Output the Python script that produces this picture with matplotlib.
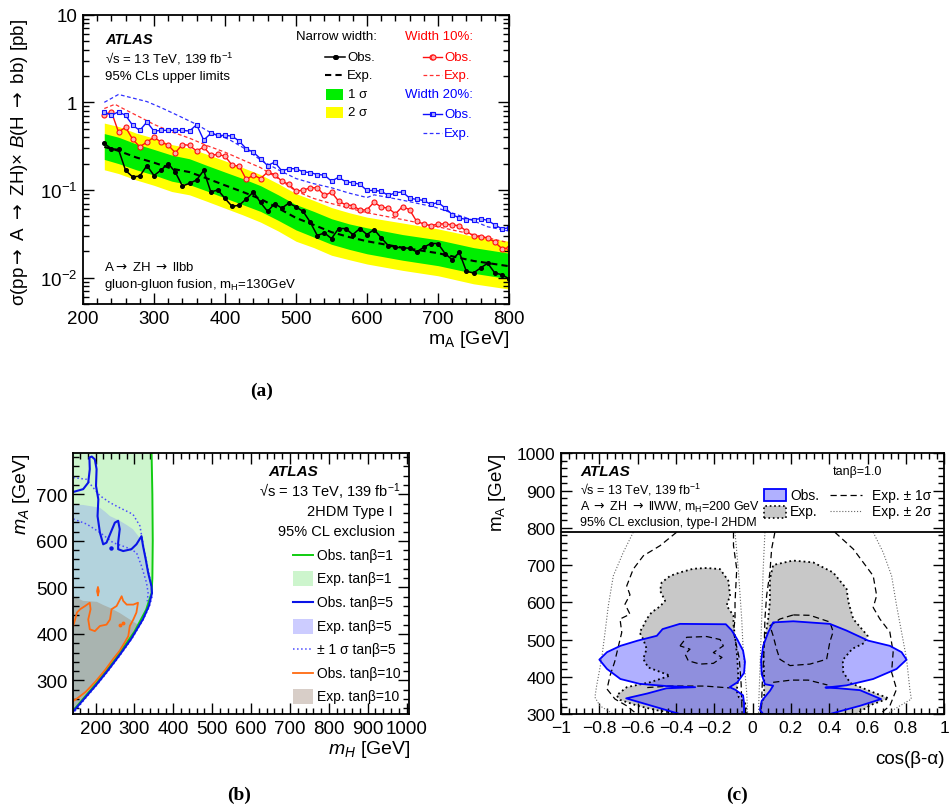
import numpy as np
import matplotlib
matplotlib.use("Agg")
import matplotlib.pyplot as plt
from matplotlib.ticker import MultipleLocator, FixedLocator, FixedFormatter, FuncFormatter, LogLocator, NullFormatter
from matplotlib.patches import Rectangle
from matplotlib.lines import Line2D

plt.rcParams['font.family'] = ['Liberation Sans', 'DejaVu Sans']
plt.rcParams['mathtext.fontset'] = 'custom'
plt.rcParams['mathtext.rm'] = 'Liberation Sans'
plt.rcParams['mathtext.it'] = 'Liberation Sans:italic'
plt.rcParams['mathtext.bf'] = 'Liberation Sans:bold'
plt.rcParams['mathtext.sf'] = 'DejaVu Sans'

ARR = '$\\mathsf{\\rightarrow}$'

# ---------------- panel (a) data ----------------
mass_a = list(range(230, 810, 10))
obs_narrow = [0.34, 0.295, 0.29, 0.167, 0.141, 0.144, 0.19, 0.146, 0.169, 0.2,
              0.16, 0.111, 0.119, 0.13, 0.167, 0.095, 0.1, 0.08, 0.065, 0.067,
              0.079, 0.095, 0.072, 0.057, 0.07, 0.062, 0.071, 0.064, 0.057, 0.043,
              0.0302, 0.0324, 0.0279, 0.0363, 0.0363, 0.031, 0.0363, 0.031, 0.0354, 0.0284,
              0.0232, 0.0222, 0.0219, 0.0216, 0.0197, 0.0222, 0.0245, 0.0245, 0.0188, 0.016,
              0.0194, 0.0118, 0.0113, 0.0129, 0.0146, 0.0113, 0.0108, 0.0097]
obs_w10 = [0.71, 0.78, 0.458, 0.52, 0.378, 0.311, 0.352, 0.40, 0.352, 0.325,
           0.266, 0.33, 0.323, 0.278, 0.309, 0.25, 0.254, 0.243, 0.192, 0.187,
           0.132, 0.148, 0.135, 0.16, 0.15, 0.126, 0.116, 0.097, 0.0995, 0.106,
           0.106, 0.0865, 0.0945, 0.0745, 0.0677, 0.0665, 0.0588, 0.0595, 0.0726, 0.0638,
           0.062, 0.0534, 0.0647, 0.0595, 0.0437, 0.041, 0.039, 0.041, 0.041, 0.040,
           0.039, 0.034, 0.0297, 0.029, 0.0283, 0.0255, 0.0214, 0.0218]
obs_w20 = [0.78, 0.71, 0.78, 0.71, 0.546, 0.479, 0.596, 0.47, 0.479, 0.479,
           0.479, 0.479, 0.47, 0.556, 0.371, 0.442, 0.42, 0.42, 0.412, 0.361,
           0.295, 0.27, 0.227, 0.19, 0.208, 0.165, 0.175, 0.175, 0.161, 0.158,
           0.150, 0.148, 0.126, 0.140, 0.124, 0.121, 0.116, 0.0987, 0.0987, 0.097,
           0.0865, 0.093, 0.095, 0.0807, 0.078, 0.076, 0.0683, 0.072, 0.0625, 0.0524,
           0.048, 0.046, 0.046, 0.047, 0.045, 0.040, 0.036, 0.037]

band_mass = [230, 250, 275, 300, 325, 350, 375, 400, 425, 450, 475, 500, 525, 550, 575, 600, 650, 700, 750, 800]
exp_narrow = [0.31, 0.28, 0.235, 0.205, 0.175, 0.16, 0.135, 0.113, 0.095, 0.079,
              0.062, 0.048, 0.040, 0.033, 0.029, 0.026, 0.022, 0.019, 0.0155, 0.0135]
exp_up2 = [0.58, 0.53, 0.445, 0.39, 0.33, 0.30, 0.255, 0.215, 0.18, 0.15,
           0.118, 0.091, 0.076, 0.063, 0.055, 0.049, 0.042, 0.036, 0.0295, 0.026]
exp_up1 = [0.44, 0.40, 0.335, 0.29, 0.25, 0.227, 0.19, 0.16, 0.135, 0.112,
           0.088, 0.068, 0.057, 0.047, 0.041, 0.037, 0.031, 0.027, 0.022, 0.019]
exp_dn1 = [0.223, 0.20, 0.17, 0.148, 0.126, 0.115, 0.097, 0.081, 0.068, 0.057,
           0.045, 0.035, 0.029, 0.024, 0.021, 0.0187, 0.0158, 0.0137, 0.0112, 0.0097]
exp_dn2 = [0.17, 0.154, 0.13, 0.113, 0.096, 0.088, 0.074, 0.062, 0.052, 0.043,
           0.034, 0.026, 0.022, 0.018, 0.016, 0.0143, 0.0121, 0.0105, 0.0085, 0.0074]

exp_w10_mass = [230, 245, 260, 280, 300, 325, 350, 375, 400, 425, 450, 475, 500, 525, 550, 575, 600, 650, 700, 750, 800]
exp_w10 = [0.85, 0.95, 0.82, 0.68, 0.56, 0.46, 0.39, 0.32, 0.27, 0.22, 0.18, 0.135, 0.097,
           0.08, 0.07, 0.062, 0.055, 0.046, 0.038, 0.031, 0.025]
exp_w20_mass = [230, 250, 270, 290, 310, 335, 360, 380, 405, 430, 450, 475, 500, 525, 550, 575, 600, 610, 645, 695, 740, 770, 800]
exp_w20 = [1.0, 1.23, 1.12, 1.02, 0.87, 0.70, 0.56, 0.45, 0.38, 0.29, 0.22, 0.17, 0.135,
           0.118, 0.106, 0.092, 0.082, 0.088, 0.078, 0.064, 0.048, 0.038, 0.034]

# ---------------- panel (b) data (mH, mA) ----------------
exp1_mH = [142, 344, 346, 347, 346, 344, 330, 300, 250, 200, 142]
exp1_mA = [788, 788, 700, 600, 520, 488, 452, 405, 345, 292, 235]
exp5_mH = [142, 168, 190, 211, 225, 237, 250, 262, 280, 296, 310, 322, 331, 339, 342, 335, 300, 250, 200, 142]
exp5_mA = [678, 677, 674, 671, 662, 653, 648, 643, 634, 625, 610, 596, 560, 524, 490, 460, 405, 345, 292, 235]
exp10_mH = [142, 168, 203, 220, 237, 262, 288, 309, 300, 250, 200, 142]
exp10_mA = [481, 471, 469, 462, 456, 445, 431, 420, 405, 345, 292, 235]
obs1_mH = [344, 346, 347, 346, 344, 330, 300, 250, 200, 142]
obs1_mA = [788, 700, 600, 520, 488, 452, 405, 345, 292, 235]
obs5_mH = [142.6, 168, 181, 185, 184, 190, 198, 202.5, 201, 207, 205, 211, 219.5, 228, 237, 249.5,
           258, 262, 258, 258, 271, 292, 305, 318, 322, 329, 335, 343.6, 345, 337, 322, 292, 262,
           232, 202, 172, 142]
obs5_mA = [705, 711, 725, 754, 779, 781, 775, 754, 718, 689, 653, 618, 592.5, 596, 614, 639,
           643, 625, 596, 582, 578, 582, 592.5, 610, 589, 560, 532, 503, 488, 460, 432, 390, 355,
           322, 291, 262, 233]
sig5_up_mH = [142.6, 177, 190, 211, 237, 262, 296, 314, 326, 335, 343, 346, 338, 322, 292, 262, 232, 202, 172, 145]
sig5_up_mA = [736, 732, 718, 697, 682, 671, 657, 632, 575, 539, 503, 482, 458, 430, 388, 353, 320, 289, 260, 232]
sig5_dn_mH = [142.6, 177, 211, 245, 279, 305, 318, 331, 335, 333]
sig5_dn_mA = [647, 636, 618, 596, 586, 575, 546, 510, 488, 470]
obs10_mH = [142.6, 147, 152, 160, 173, 185, 187, 181, 185, 198, 211, 228, 237, 241, 254, 267, 271,
            280, 297, 309, 305, 297, 288, 284, 275, 262, 245, 225, 200, 175, 155, 142.6]
obs10_mA = [418, 430, 446, 453, 460, 467, 453, 431, 410, 406, 417, 420, 431, 453, 460, 481, 471,
            463, 463, 467, 446, 431, 417, 395, 382, 364, 346, 323, 298, 276, 263, 256]
isl10_mH = [206, 208.5, 206, 203.5, 206]
isl10_mA = [483, 492, 501, 492, 483]

# ---------------- panel (c) data (cos(beta-alpha), mA) ----------------
obsL_c = [-0.045, -0.045, -0.05, -0.09, -0.12, -0.08, -0.045, -0.04, -0.05, -0.08, -0.11, -0.14,
          -0.38, -0.47, -0.50, -0.60, -0.69, -0.76, -0.80, -0.76, -0.69, -0.59, -0.45, -0.30,
          -0.45, -0.55, -0.66, -0.60, -0.52, -0.38]
obsL_m = [300, 330, 350, 365, 372, 385, 410, 440, 470, 500, 525, 541,
          542, 528, 510, 497, 483, 466, 446, 421, 394, 381, 375, 372,
          369, 355, 342, 333, 321, 300]
obsR_c = [0.055, 0.038, 0.047, 0.09, 0.107, 0.064, 0.047, 0.044, 0.055, 0.081, 0.107, 0.212,
          0.403, 0.49, 0.603, 0.716, 0.777, 0.803, 0.751, 0.629, 0.49, 0.42, 0.38, 0.45,
          0.56, 0.67, 0.56, 0.403]
obsR_m = [300, 311, 335, 362, 376, 380, 407, 443, 483, 519, 546, 549,
          542, 524, 497, 483, 466, 446, 421, 394, 377, 373, 371, 369,
          364, 340, 322, 300]
expL_c = [-0.03, -0.04, -0.072, -0.083, -0.075, -0.08, -0.09, -0.10, -0.10, -0.136, -0.118, -0.127,
          -0.17, -0.24, -0.31, -0.38, -0.43, -0.475, -0.483, -0.457, -0.483, -0.527, -0.553,
          -0.57, -0.59, -0.571, -0.553, -0.571, -0.545, -0.431, -0.536, -0.657, -0.71, -0.692,
          -0.60, -0.50, -0.38]
expL_m = [300, 330, 345, 362, 400, 450, 500, 540, 564, 591, 618, 658,
          689, 692, 690, 680, 671, 653, 631, 604, 589, 573, 555,
          537, 519, 501, 475, 448, 425, 403, 385, 372, 350, 338,
          322, 310, 300]
expR_c = [0.05, 0.04, 0.06, 0.06, 0.055, 0.07, 0.081, 0.09, 0.09, 0.107, 0.21, 0.316, 0.42,
          0.49, 0.50, 0.525, 0.60, 0.58, 0.52, 0.47, 0.473, 0.51, 0.62, 0.71, 0.62, 0.54]
expR_m = [300, 320, 345, 400, 480, 520, 555, 600, 662, 700, 712, 707, 680,
          636, 600, 555, 510, 490, 475, 445, 412, 383, 360, 342, 325, 300]

sig1_lines = [
    ([-0.397, -0.483, -0.57, -0.623, -0.657, -0.64, -0.666, -0.64, -0.692, -0.683, -0.70, -0.72,
      -0.744, -0.76, -0.718, -0.657, -0.605],
     [788, 752, 725, 689, 644, 620, 595, 568, 555, 519, 483, 440, 403, 367, 340, 322, 300]),
    ([-0.10, -0.10, -0.083, -0.092, -0.092, -0.10, -0.07, -0.06, -0.055],
     [788, 752, 689, 600, 555, 520, 450, 380, 300]),
    ([-0.379, -0.344, -0.24, -0.17, -0.153, -0.205, -0.16, -0.205, -0.275, -0.336, -0.353, -0.327, -0.379],
     [483, 506, 508, 500, 483, 465, 452, 436, 434, 443, 461, 474, 483]),
    ([-0.55, -0.43, -0.25, -0.12], [371, 375, 375, 370]),
    ([0.429, 0.525, 0.629, 0.647, 0.629, 0.664, 0.716, 0.733, 0.725, 0.751, 0.716, 0.664],
     [788, 743, 671, 618, 586, 555, 520, 466, 412, 367, 322, 300]),
    ([0.116, 0.099, 0.09, 0.073, 0.064, 0.06, 0.05, 0.045],
     [788, 743, 680, 618, 555, 480, 380, 300]),
    ([0.212, 0.299, 0.403, 0.42, 0.403, 0.386, 0.299, 0.195, 0.142, 0.125, 0.107, 0.09, 0.142, 0.212],
     [566, 565, 547, 521, 494, 447, 434, 430, 447, 474, 510, 537, 555, 566]),
    ([0.107, 0.20, 0.29, 0.39], [385, 391, 391, 378]),
]
sig2_lines = [
    ([-0.623, -0.675, -0.727, -0.753, -0.77, -0.788, -0.814, -0.823, -0.797, -0.727],
     [788, 734, 671, 591, 520, 448, 376, 345, 322, 300]),
    ([-0.092, -0.075, -0.057, -0.049, -0.031, -0.026], [788, 689, 555, 465, 357, 300]),
    ([0.064, 0.055, 0.047, 0.038, 0.03], [788, 689, 555, 420, 300]),
    ([0.629, 0.681, 0.725, 0.751, 0.777, 0.803, 0.82, 0.828, 0.768, 0.70],
     [788, 734, 671, 591, 520, 448, 367, 340, 322, 300]),
]

# ---------------- figure ----------------
W, H = 952, 812
fig = plt.figure(figsize=(W / 100, H / 100), dpi=100)


def box(l, t, r, b):
    return [l / W, 1 - b / H, (r - l) / W, (b - t) / H]


def ftext(px, py, s, **kw):
    kw.setdefault('va', 'center')
    fig.text(px / W, 1 - py / H, s, **kw)


def fline(x1, x2, py, **kw):
    fig.add_artist(Line2D([x1 / W, x2 / W], [1 - py / H, 1 - py / H], transform=fig.transFigure, **kw))


def frect(l, t, r, b, **kw):
    fig.add_artist(Rectangle((l / W, 1 - b / H), (r - l) / W, (b - t) / H, transform=fig.transFigure, **kw))


def style(ax, size):
    ax.tick_params(which='both', direction='in', top=True, right=True, labelsize=size, width=1)
    ax.tick_params(which='major', length=8, pad=4)
    ax.tick_params(which='minor', length=4)
    for s in ax.spines.values():
        s.set_linewidth(1.3)


# ----- (a) -----
axa = fig.add_axes(box(83, 15.7, 509, 305))
axa.set_yscale('log')
axa.fill_between(band_mass, exp_dn2, exp_up2, color='#ffff00', lw=0)
axa.fill_between(band_mass, exp_dn1, exp_up1, color='#00ee00', lw=0)
axa.plot(band_mass, exp_narrow, color='black', ls='--', lw=1.5, dashes=(3, 2))
axa.plot(exp_w10_mass, exp_w10, color='#ff3030', ls='--', lw=0.9, dashes=(3, 2))
axa.plot(exp_w20_mass, exp_w20, color='#3030ff', ls='--', lw=0.9, dashes=(3, 2))
axa.plot(mass_a, obs_narrow, color='black', lw=1.1, marker='o', ms=2.6)
axa.plot(mass_a, obs_w10, color='#ff1010', lw=1.0, marker='o', ms=3.6, mfc='#ffb0b0', mew=0.8)
axa.plot(mass_a, obs_w20, color='#1010ff', lw=1.0, marker='s', ms=3.4, mfc='#b0b0ff', mew=0.8)
axa.set_xlim(200, 800)
axa.set_ylim(0.005, 10)
axa.xaxis.set_major_locator(MultipleLocator(100))
axa.xaxis.set_minor_locator(MultipleLocator(20))
axa.yaxis.set_major_locator(FixedLocator([0.01, 0.1, 1, 10]))
axa.yaxis.set_major_formatter(FixedFormatter(['$10^{-2}$', '$10^{-1}$', '1', '10']))
axa.yaxis.set_minor_locator(LogLocator(subs=range(2, 10)))
axa.yaxis.set_minor_formatter(NullFormatter())
style(axa, 13.5)

ftext(20, 162, 'σ(pp' + ARR + ' A ' + ARR + ' ZH)× $\\mathit{B}$(H ' + ARR + ' bb) [pb]',
      rotation=90, ha='center', fontsize=13.5)
ftext(510, 340, 'm$_\\mathrm{A}$ [GeV]', ha='right', fontsize=14)
ftext(105, 40, 'ATLAS', fontsize=10.5, fontweight='bold', fontstyle='italic')
ftext(105, 58.7, '√s = 13 TeV, 139 fb$^{-1}$', fontsize=9.5)
ftext(105, 76.7, '95% CLs upper limits', fontsize=9.5)
ftext(104, 268, 'A' + ARR + ' ZH ' + ARR + ' llbb', fontsize=9.5)
ftext(104, 285, 'gluon-gluon fusion, m$_\\mathrm{H}$=130GeV', fontsize=9.5)

ftext(377, 36.7, 'Narrow width:', ha='right', fontsize=9.5)
fline(325, 345, 57.7, color='black', lw=1.1)
fline(334.5, 335.5, 57.7, color='black', marker='o', ms=2.6)
ftext(347, 57.7, 'Obs.', fontsize=9.5)
fline(325, 345, 76, color='black', lw=1.5, ls='--', dashes=(3, 2))
ftext(347, 76, 'Exp.', fontsize=9.5)
frect(326, 90, 343, 100.5, color='#00ee00', lw=0)
ftext(348, 95, '1 σ', fontsize=9.5)
frect(326, 107.5, 343, 118.5, color='#ffff00', lw=0)
ftext(348, 113, '2 σ', fontsize=9.5)
ftext(473, 36.7, 'Width 10%:', ha='right', fontsize=9.5, color='#ff0000')
fline(423, 442, 57.7, color='#ff1010', lw=1.0)
fline(432, 433, 57.7, color='#ff1010', marker='o', ms=3.6, mfc='#ffb0b0', mew=0.8)
ftext(444, 57.7, 'Obs.', fontsize=9.5, color='#ff0000')
fline(423, 442, 76, color='#ff3030', lw=0.9, ls='--', dashes=(3, 2))
ftext(444, 76, 'Exp.', fontsize=9.5, color='#ff0000')
ftext(473, 95, 'Width 20%:', ha='right', fontsize=9.5, color='#0000ff')
fline(423, 442, 115, color='#1010ff', lw=1.0)
fline(432, 433, 115, color='#1010ff', marker='s', ms=3.4, mfc='#b0b0ff', mew=0.8)
ftext(444, 115, 'Obs.', fontsize=9.5, color='#0000ff')
fline(423, 442, 134, color='#3030ff', lw=0.9, ls='--', dashes=(3, 2))
ftext(444, 134, 'Exp.', fontsize=9.5, color='#0000ff')

# ----- (b) -----
axb = fig.add_axes(box(73.3, 454.3, 409.3, 715))
axb.fill(exp1_mH, exp1_mA, color='#cdf5cd', lw=0)
axb.fill(exp5_mH, exp5_mA, color='#b3d3dd', lw=0)
axb.fill(exp10_mH, exp10_mA, color='#a9b4b0', lw=0)
axb.plot(sig5_up_mH, sig5_up_mA, color='#4a4aff', ls=':', lw=1.1)
axb.plot(sig5_dn_mH, sig5_dn_mA, color='#4a4aff', ls=':', lw=1.1)
axb.plot(obs1_mH, obs1_mA, color='#11cc11', lw=1.4)
axb.plot(obs10_mH, obs10_mA, color='#ff6a10', lw=1.3)
axb.plot(isl10_mH, isl10_mA, color='#ff6a10', lw=1.2)
axb.plot([271, 262], [424, 419], ls='none', marker='o', ms=1.8, color='#ff6a10')
axb.plot(obs5_mH, obs5_mA, color='#0a14e6', lw=1.5)
axb.plot([240], [585], ls='none', marker='o', ms=2.2, color='#0a14e6')
axb.set_xlim(142.6, 1007)
axb.set_ylim(228, 788)
axb.xaxis.set_major_locator(MultipleLocator(100))
axb.xaxis.set_minor_locator(MultipleLocator(20))
axb.yaxis.set_major_locator(MultipleLocator(100))
axb.yaxis.set_minor_locator(MultipleLocator(20))
style(axb, 13.5)

ftext(22, 453, '$m_A$ [GeV]', rotation=90, ha='center', va='top', fontsize=14)
ftext(410, 750, '$m_H$ [GeV]', ha='right', fontsize=14)
ftext(268, 472, 'ATLAS', fontsize=11, fontweight='bold', fontstyle='italic')
ftext(400, 492, '√s = 13 TeV, 139 fb$^{-1}$', ha='right', fontsize=10.5)
ftext(393, 512, '2HDM Type I', ha='right', fontsize=10.5)
ftext(395, 532, '95% CL exclusion', ha='right', fontsize=10.5)
leg_b = [(556, 'line', dict(color='#11cc11', lw=1.4), 'Obs. tanβ=1'),
         (579.5, 'rect', '#cdf5cd', 'Exp. tanβ=1'),
         (603, 'line', dict(color='#0a14e6', lw=1.5), 'Obs. tanβ=5'),
         (627, 'rect', '#ccccff', 'Exp. tanβ=5'),
         (650, 'line', dict(color='#4a4aff', lw=1.1, ls=':'), '± 1 σ tanβ=5'),
         (674, 'line', dict(color='#ff6a10', lw=1.3), 'Obs. tanβ=10'),
         (697.5, 'rect', '#d8cec8', 'Exp. tanβ=10')]
for py, kind, st, lab in leg_b:
    if kind == 'line':
        fline(293, 313, py, **st)
    else:
        frect(293, py - 7.5, 313, py + 7.5, color=st, lw=0)
    ftext(317, py, lab, fontsize=10)

# ----- (c) -----
axc = fig.add_axes(box(561, 454.3, 944.3, 715))
axc.fill(expL_c, expL_m, facecolor='#c8c8c8', edgecolor='none')
axc.fill(expR_c, expR_m, facecolor='#c8c8c8', edgecolor='none')
axc.fill(obsL_c, obsL_m, facecolor='#3a3aff', alpha=0.4, edgecolor='none')
axc.fill(obsR_c, obsR_m, facecolor='#3a3aff', alpha=0.4, edgecolor='none')
axc.plot(expL_c + expL_c[:1], expL_m + expL_m[:1], color='black', ls=':', lw=1.3)
axc.plot(expR_c + expR_c[:1], expR_m + expR_m[:1], color='black', ls=':', lw=1.3)
for xs, ys in sig1_lines:
    axc.plot(xs, ys, color='black', lw=0.9, ls='--', dashes=(5, 3))
for xs, ys in sig2_lines:
    axc.plot(xs, ys, color='#666666', lw=0.8, ls=':')
axc.plot(obsL_c + obsL_c[:1], obsL_m + obsL_m[:1], color='#0000ff', lw=1.3)
axc.plot(obsR_c + obsR_c[:1], obsR_m + obsR_m[:1], color='#0000ff', lw=1.3)
axc.axhline(790, color='black', lw=1.3)
axc.set_xlim(-1, 1)
axc.set_ylim(300, 1000)
axc.xaxis.set_major_locator(MultipleLocator(0.2))
axc.xaxis.set_minor_locator(MultipleLocator(0.04))
axc.yaxis.set_major_locator(MultipleLocator(100))
axc.yaxis.set_minor_locator(MultipleLocator(20))


def cfmt(v, pos):
    if abs(v) < 1e-9:
        return '0'
    s = ('%d' % round(v)) if abs(abs(v) - 1) < 1e-9 else ('%.1f' % abs(v))
    s = s.lstrip('-')
    return ('−' + s) if v < 0 else s


axc.xaxis.set_major_formatter(FuncFormatter(cfmt))
style(axc, 12.6)

ftext(497, 453, 'm$_\\mathrm{A}$ [GeV]', rotation=90, ha='center', va='top', fontsize=13.5)
ftext(945, 760, 'cos(β-α)', ha='right', fontsize=13.5)
ftext(580, 472, 'ATLAS', fontsize=11, fontweight='bold', fontstyle='italic')
ftext(580, 490, '√s = 13 TeV, 139 fb$^{-1}$', fontsize=9)
ftext(580, 507, 'A ' + ARR + ' ZH ' + ARR + ' llWW, m$_\\mathrm{H}$=200 GeV', fontsize=9)
ftext(580, 523, '95% CL exclusion, type-I 2HDM', fontsize=9)
ftext(833, 472, 'tanβ=1.0', fontsize=9)
frect(764, 490, 786, 502, facecolor='#b0b0ff', edgecolor='#0000ff', lw=1.3)
ftext(790, 496, 'Obs.', fontsize=10)
frect(764, 506.5, 786, 518.5, facecolor='#c8c8c8', edgecolor='black', lw=1.2, ls=':')
ftext(790, 512, 'Exp.', fontsize=10)
fline(830, 862, 496, color='black', lw=0.9, ls='--', dashes=(5, 3))
ftext(872, 496, 'Exp. ± 1σ', fontsize=10)
fline(830, 862, 512, color='#666666', lw=0.8, ls=':')
ftext(872, 512, 'Exp. ± 2σ', fontsize=10)

# captions
ftext(262, 391, '(a)', ha='center', family='Liberation Serif', fontsize=14, fontweight='bold')
ftext(239, 795, '(b)', ha='center', family='Liberation Serif', fontsize=14, fontweight='bold')
ftext(737, 795, '(c)', ha='center', family='Liberation Serif', fontsize=14, fontweight='bold')

fig.savefig('out.png', dpi=100)
